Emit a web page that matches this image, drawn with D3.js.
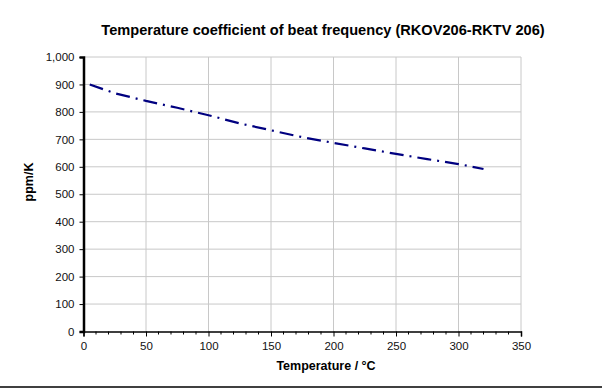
<!DOCTYPE html>
<html>
<head>
<meta charset="utf-8">
<script src="https://cdn.jsdelivr.net/npm/d3@7"></script>
<style>
  html, body { margin: 0; padding: 0; background: #fff; }
  svg { display: block; font-family: "Liberation Sans", Arial, sans-serif; }
  .tick text { font-size: 11.5px; fill: #111; }
</style>
</head>
<body>
<div id="chart"></div>
<script>
// values
const temps = [5, 25, 50, 75, 100, 125, 150, 175, 200, 225, 250, 275, 300, 320];
const ppm = [900, 868, 840, 815, 788, 758, 733, 708, 687, 667, 647, 628, 610, 592];
const xTicks = [0, 50, 100, 150, 200, 250, 300, 350];
const yTicks = [0, 100, 200, 300, 400, 500, 600, 700, 800, 900, 1000];

const W = 602, H = 389;
const margin = { left: 83.5, right: 81, top: 57, bottom: 57.5 };

const svg = d3.select('#chart').append('svg')
  .attr('width', W)
  .attr('height', H);

const x = d3.scaleLinear().domain([0, 350]).range([margin.left, W - margin.right]);
const y = d3.scaleLinear().domain([0, 1000]).range([H - margin.bottom, margin.top]);

// gridlines
svg.append('g')
  .selectAll('line.hg')
  .data(yTicks.slice(1))
  .join('line')
  .attr('x1', x(0)).attr('x2', x(350))
  .attr('y1', d => y(d)).attr('y2', d => y(d))
  .attr('stroke', '#c8c8c8').attr('stroke-width', 1);

svg.append('g')
  .selectAll('line.vg')
  .data(xTicks.slice(1))
  .join('line')
  .attr('x1', d => x(d)).attr('x2', d => x(d))
  .attr('y1', y(0)).attr('y2', y(1000))
  .attr('stroke', '#c8c8c8').attr('stroke-width', 1);

// x axis with minor ticks
const xAxis = svg.append('g')
  .attr('transform', `translate(0,${y(0)})`)
  .call(d3.axisBottom(x).tickValues(xTicks).tickSize(5).tickPadding(5).tickFormat(d3.format('d')));
xAxis.select('.domain').attr('stroke', '#000').attr('stroke-width', 1.5);
xAxis.selectAll('.tick line').attr('stroke', '#000');

svg.append('g')
  .selectAll('line')
  .data(d3.range(0, 351, 10).filter(v => v % 50 !== 0))
  .join('line')
  .attr('x1', d => x(d)).attr('x2', d => x(d))
  .attr('y1', y(0)).attr('y2', y(0) + 3)
  .attr('stroke', '#000');

// y axis
const yAxis = svg.append('g')
  .attr('transform', `translate(${x(0)},0)`)
  .call(d3.axisLeft(y).tickValues(yTicks).tickSize(4).tickPadding(5).tickFormat(d3.format(',')));
yAxis.select('.domain').attr('stroke', '#000').attr('stroke-width', 2.5);
yAxis.selectAll('.tick line').attr('stroke', '#000');

// data line
const line = d3.line()
  .x((d, i) => x(temps[i]))
  .y(d => y(d));

svg.append('path')
  .datum(ppm)
  .attr('d', line)
  .attr('fill', 'none')
  .attr('stroke', '#000080')
  .attr('stroke-width', 2.2)
  .attr('stroke-dasharray', '14,6,2,6');

// title and labels
svg.append('text')
  .attr('x', 323).attr('y', 35)
  .attr('text-anchor', 'middle')
  .attr('font-weight', 'bold')
  .attr('font-size', '14.6px')
  .text('Temperature coefficient of beat frequency (RKOV206-RKTV 206)');

svg.append('text')
  .attr('transform', 'translate(33,182) rotate(-90)')
  .attr('text-anchor', 'middle')
  .attr('font-weight', 'bold')
  .attr('font-size', '12.5px')
  .text('ppm/K');

svg.append('text')
  .attr('x', 326).attr('y', 370)
  .attr('text-anchor', 'middle')
  .attr('font-weight', 'bold')
  .attr('font-size', '12.5px')
  .text('Temperature / °C');

// bottom rule
svg.append('line')
  .attr('x1', 0).attr('x2', W)
  .attr('y1', 387).attr('y2', 387)
  .attr('stroke', '#000').attr('stroke-width', 1.5);
</script>
</body>
</html>
